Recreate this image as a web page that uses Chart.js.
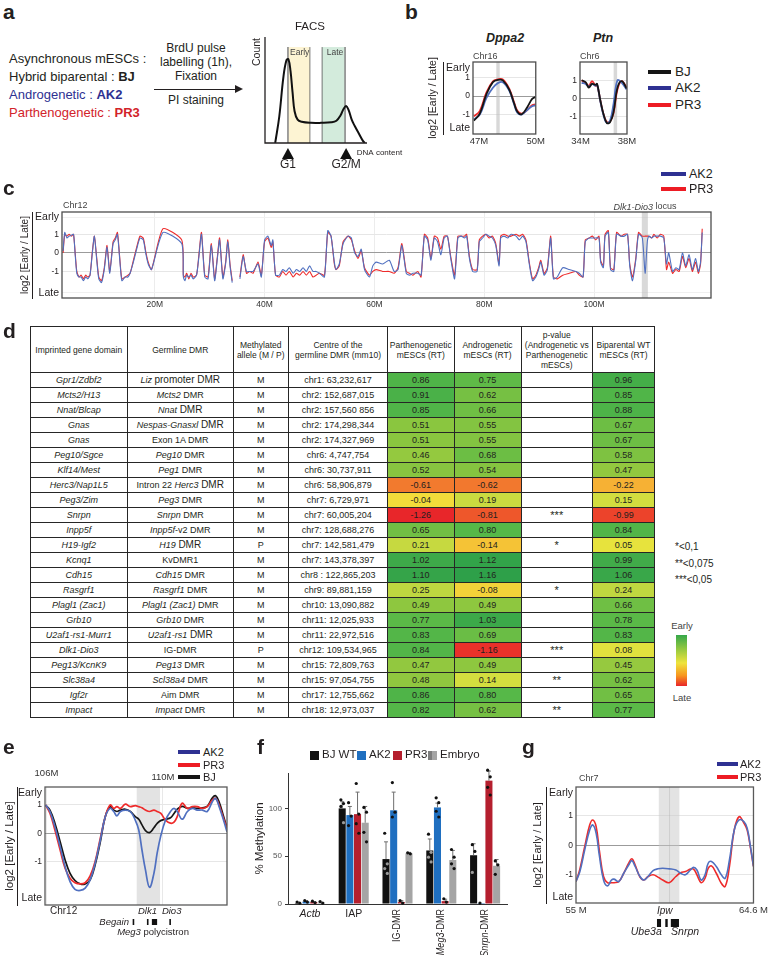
<!DOCTYPE html>
<html>
<head>
<meta charset="utf-8">
<title>Replication timing of imprinted domains</title>
<script src="https://cdn.jsdelivr.net/npm/chart.js@4.4.1/dist/chart.umd.min.js"></script>
<style>
body { margin: 0; background: #fff; }
#page { position: relative; width: 770px; height: 955px; overflow: hidden; background: #fff;
  font-family: "Liberation Sans", Arial, sans-serif; color: #231f20; }
#page > div, #page > canvas { position: absolute; }
.tag { font-weight: bold; font-size: 21px; line-height: 21px; }
.t { white-space: nowrap; line-height: 1; }
#tbl { position: absolute; left: 29.5px; top: 326px; border-collapse: collapse; table-layout: fixed; width: 624.5px;
  font-family: "Liberation Sans Narrow", "Liberation Sans", Arial, sans-serif; font-size: 9px; color: #231f20; }
#tbl td, #tbl th { border: 1px solid #262626; padding: 0; text-align: center; font-weight: normal; white-space: nowrap; overflow: hidden; }
#tbl tr.h { height: 46px; }
#tbl th { line-height: 10px; font-size: 8.5px; }
#tbl tr.r { height: 15px; }
#tbl td { line-height: 13px; }
.w { font-family: "Liberation Sans", Arial, sans-serif; font-size: 10px; }
.st { font-size: 11px; }
</style>
</head>
<body>
<div id="page">
  <canvas id="facs" width="175" height="150" style="left:240px;top:25px"></canvas>
  <canvas id="dppa2" width="127" height="105" style="left:420px;top:45px"></canvas>
  <canvas id="ptn" width="84" height="105" style="left:555px;top:45px"></canvas>
  <canvas id="chr12" width="720" height="115" style="left:0px;top:195px"></canvas>
  <canvas id="dlk" width="235" height="182" style="left:0px;top:758px"></canvas>
  <canvas id="meth" width="265" height="190" style="left:250px;top:765px"></canvas>
  <canvas id="chr7" width="265" height="170" style="left:505px;top:770px"></canvas>
</div>
<script>
// ---- a: FACS profile (DNA content a.u. / count) ----
var facsDNA = [10, 14, 18, 21, 23, 25, 27, 29, 32, 36, 45, 55, 65, 70, 74, 77, 79.5, 82, 85, 88, 92, 96, 98];
var facsCount = [0, 25, 62, 78, 79, 68, 48, 30, 22, 20, 19, 19, 19.5, 21, 26, 32, 35, 31, 22, 16, 9, 2, 0];

// ---- b: Dppa2 (chr16) and Ptn (chr6) ----
var dppa2Pos = [46.74, 47.05, 47.4, 47.74, 48.0, 48.26, 48.6, 48.86, 49.03, 49.26, 49.55, 49.81, 49.98];
var dppa2BJ = [-1.33, -0.95, 0.1, 0.75, 0.88, 0.85, 0.35, -0.4, -0.85, -0.98, -0.6, -0.15, -0.05];
var dppa2AK2 = [-1.26, -1.0, -0.1, 0.45, 0.7, 0.75, 0.3, -0.45, -0.9, -1.0, -0.75, -0.55, -0.5];
var dppa2PR3 = [-1.1, -0.8, 0.2, 0.8, 0.9, 0.9, 0.4, -0.35, -0.8, -0.95, -0.75, -0.5, -0.45];
var ptnPos = [34.09, 34.43, 34.71, 34.99, 35.28, 35.42, 35.7, 35.99, 36.27, 36.55, 36.84, 37.18, 37.55, 37.97];
var ptnBJ = [1.0, 0.9, 0.6, 0.8, 0.75, 0.8, -0.1, -0.9, -1.35, -1.3, -0.75, 0.6, 0.95, 0.55];
var ptnAK2 = [0.85, 0.8, 0.65, 0.8, 0.7, 0.78, -0.15, -0.95, -1.35, -1.2, -0.3, 1.0, 0.85, 0.5];
var ptnPR3 = [1.0, 0.85, 0.7, 0.95, 0.7, 0.75, -0.1, -0.9, -1.3, -1.25, -0.8, 0.5, 0.95, 0.6];

// ---- c: whole chr12 (Mb) ----
var cPos = [3.3,3.6,4.0,4.4,4.8,5.2,5.5,5.8,6.2,6.6,
  7.0,7.4,7.8,8.2,8.6,9.0,9.4,9.8,10.3,10.8,
  11.3,11.8,12.4,12.8,13.2,13.6,14.0,14.6,15.1,15.5,
  16.1,16.7,17.3,17.9,18.4,18.8,19.4,21.5,24.9,25.2,
  25.5,25.8,26.2,26.6,27.0,27.6,28.0,28.5,29.1,29.7,
  30.3,30.9,31.4,31.8,32.4,32.9,33.3,33.7,34.1,34.8,
  35.5,36.1,36.7,37.3,37.9,38.8,39.4,40.0,40.6,41.2,
  41.5,42.0,42.7,43.3,43.9,44.5,45.2,45.8,46.4,47.0,
  47.6,48.2,48.8,49.4,50.0,50.9,51.5,52.1,52.7,53.0,
  53.6,54.3,55.2,55.8,56.4,57.0,57.6,58.2,59.1,59.7,
  60.3,61.5,62.7,63.6,64.3,65.0,65.8,66.4,67.0,67.9,
  68.5,69.1,69.7,70.3,70.9,71.5,72.1,72.7,73.3,73.9,
  74.6,75.2,75.8,76.4,76.8,77.3,77.9,78.7,79.1,79.7,
  80.3,80.9,81.5,82.1,82.7,83.0,83.6,84.3,84.9,85.8,
  86.4,87.0,87.6,88.2,88.8,89.4,89.9,90.3,90.9,91.5,
  92.1,92.6,93.3,94.3,95.5,96.7,97.3,98.0,98.4,99.1,
  99.7,100.3,100.9,101.2,101.7,102.0,102.6,103.0,103.6,104.1,
  104.9,105.5,106.1,106.5,107.0,107.6,108.1,108.8,109.3,109.7,
  110.0,110.5,110.9,111.5,112.1,112.7,113.2,113.6,114.3,114.9,
  115.5,116.1,116.7,117.3,117.9,118.5,119.0,119.4,119.7];
var cPR3 = [0.0,1.0,0.9,1.0,0.9,1.0,0.0,-1.0,-1.3,-1.2,
  -1.4,-1.2,-1.3,-1.2,0.0,0.9,-0.2,-1.3,-1.5,-0.8,
  0.4,-1.0,0.6,0.8,1.1,-0.2,-1.4,-1.3,-1.2,-1.1,
  -0.4,0.3,0.9,0.8,0.0,-0.5,-0.9,1.3,0.7,-1.2,
  -1.3,-1.1,-1.4,-1.1,-1.3,-1.2,-0.2,1.1,-1.2,-1.3,
  0.5,-1.4,-0.2,0.8,-1.3,-0.5,0.7,-0.6,-1.5,null,
  -1.3,-0.1,-1.1,-1.0,-1.1,-0.5,-1.2,0.6,0.8,0.3,
  0.6,-1.2,-1.3,-1.0,-1.2,-1.0,-1.3,-1.1,-1.2,-1.0,
  -1.2,-1.0,-1.3,-1.2,-1.1,-1.2,1.1,0.9,-0.6,-0.9,
  -0.7,0.6,0.9,0.7,0.1,-0.3,0.1,-0.8,-1.2,-1.0,
  -0.9,-1.0,-1.0,-1.1,-0.8,0.5,-1.0,-1.1,-1.2,-1.0,
  -1.3,1.0,0.8,-0.3,0.9,0.8,0.2,0.9,0.9,-0.2,
  -1.2,0.9,0.9,0.9,1.0,-0.2,-0.9,-0.9,0.7,0.9,
  1.0,0.8,0.9,0.5,-0.6,0.9,1.0,0.9,0.9,1.0,
  0.9,1.0,0.7,-0.5,-1.4,-1.2,-0.8,-0.4,-1.1,-0.8,
  0.9,-1.3,-1.4,-1.2,-1.1,-1.0,-1.2,-1.3,0.7,0.8,
  0.9,0.7,0.9,-0.4,-0.7,1.0,1.2,-0.8,-0.9,1.1,
  0.9,1.0,1.0,-0.6,-1.3,-0.3,1.1,0.9,0.9,0.9,
  0.9,0.8,1.0,0.8,1.0,0.9,-0.9,-0.5,-1.1,-0.9,
  -1.0,-0.2,-0.8,-0.3,-1.0,-0.5,-1.1,-0.6,1.3];
var cAK2 = [0.1,1.1,0.8,0.9,0.95,1.0,-0.1,-1.1,-1.3,-1.3,
  -1.5,-1.3,-1.4,-1.2,-0.1,0.9,-0.3,-1.4,-1.6,-0.9,
  0.3,-1.1,0.5,0.7,1.0,-0.3,-1.5,-1.3,-1.3,-1.1,
  -0.5,0.2,0.8,0.7,-0.1,-0.6,-0.9,1.1,0.5,-1.3,
  -1.5,-1.2,-1.3,-1.2,-1.4,-1.2,-0.3,1.0,-1.3,-1.4,
  0.4,-1.5,-0.3,0.7,-1.4,-0.6,0.6,-0.7,-1.6,null,
  -1.4,-0.2,-1.0,-1.0,-1.0,-0.6,-1.3,0.7,0.9,0.4,
  0.7,-1.2,-1.2,-0.9,-1.0,-0.8,-1.1,-0.9,-1.0,-0.8,
  -1.0,-0.7,-1.0,-1.0,-1.1,-1.3,1.2,0.9,-0.5,-0.9,
  -0.6,0.5,0.9,0.8,0.0,-0.2,0.2,-0.9,-1.3,-0.7,
  -0.5,-0.6,-0.4,-1.0,-0.9,0.4,-1.1,-1.2,-1.1,-1.1,
  -1.2,0.9,0.7,-0.4,0.8,0.6,-0.1,0.8,0.9,-0.3,
  -1.4,0.8,0.9,0.8,0.9,-0.3,-1.0,-1.0,0.6,0.8,
  1.0,0.9,0.8,0.4,-0.7,0.8,0.9,0.8,1.0,0.9,
  0.7,0.9,0.6,-0.6,-1.5,-1.3,-0.9,-0.5,-1.2,-0.9,
  0.8,-1.4,-1.3,-0.8,-0.9,-1.0,-1.1,-1.3,0.6,0.8,
  0.8,0.8,0.8,-0.5,-0.8,0.9,1.1,-0.9,-1.0,1.0,
  0.9,0.9,1.0,-0.7,-1.5,-0.4,1.0,0.8,-1.1,0.6,
  0.9,0.8,0.9,0.9,0.9,0.8,-0.6,0.0,-1.0,-0.8,
  -0.9,0.0,-0.7,-0.1,-0.9,-0.3,-1.0,-0.5,1.1];

// ---- d: imprinted domains table ----
var tHead = ['Imprinted gene domain', 'Germline DMR', 'Methylated<br>allele (M / P)', 'Centre of the<br>germline DMR (mm10)',
  'Parthenogenetic<br>mESCs (RT)', 'Androgenetic<br>mESCs (RT)', 'p-value<br>(Androgenetic vs<br>Parthenogenetic<br>mESCs)', 'Biparental WT<br>mESCs (RT)'];
var tDomain = ['Gpr1/Zdbf2', 'Mcts2/H13', 'Nnat/Blcap', 'Gnas', 'Gnas', 'Peg10/Sgce', 'Klf14/Mest', 'Herc3/Nap1L5', 'Peg3/Zim',
  'Snrpn', 'Inpp5f', 'H19-Igf2', 'Kcnq1', 'Cdh15', 'Rasgrf1', 'Plagl1 (Zac1)', 'Grb10', 'U2af1-rs1-Murr1', 'Dlk1-Dio3',
  'Peg13/KcnK9', 'Slc38a4', 'Igf2r', 'Impact'];
var tDMR = ['<i>Liz</i> <span class="w">promoter DMR</span>', '<i>Mcts2</i> DMR', '<i>Nnat</i> <span class="w">DMR</span>',
  '<i>Nespas-Gnasxl</i> <span class="w">DMR</span>', 'Exon 1A DMR', '<i>Peg10</i> DMR', '<i>Peg1</i> DMR',
  'Intron 22 <i>Herc3</i> <span class="w">DMR</span>', '<i>Peg3</i> DMR', '<i>Snrpn</i> DMR', '<i>Inpp5f</i>-v2 DMR',
  '<i>H19</i> <span class="w">DMR</span>', 'KvDMR1', '<i>Cdh15</i> DMR', '<i>Rasgrf1</i> DMR', '<i>Plagl1 (Zac1)</i> DMR',
  '<i>Grb10</i> DMR', '<i>U2af1-rs1</i> <span class="w">DMR</span>', 'IG-DMR', '<i>Peg13</i> DMR', '<i>Scl38a4</i> DMR',
  'Aim DMR', '<i>Impact</i> DMR'];
var tAllele = ['M','M','M','M','M','M','M','M','M','M','M','P','M','M','M','M','M','M','P','M','M','M','M'];
var tCentre = ['chr1: 63,232,617', 'chr2: 152,687,015', 'chr2: 157,560 856', 'chr2: 174,298,344', 'chr2: 174,327,969',
  'chr6: 4,747,754', 'chr6: 30,737,911', 'chr6: 58,906,879', 'chr7: 6,729,971', 'chr7: 60,005,204', 'chr7: 128,688,276',
  'chr7: 142,581,479', 'chr7: 143,378,397', 'chr8 : 122,865,203', 'chr9: 89,881,159', 'chr10: 13,090,882',
  'chr11: 12,025,933', 'chr11: 22,972,516', 'chr12: 109,534,965', 'chr15: 72,809,763', 'chr15: 97,054,755',
  'chr17: 12,755,662', 'chr18: 12,973,037'];
var tParth = [0.86, 0.91, 0.85, 0.51, 0.51, 0.46, 0.52, -0.61, -0.04, -1.26, 0.65, 0.21, 1.02, 1.10, 0.25, 0.49, 0.77, 0.83, 0.84, 0.47, 0.48, 0.86, 0.82];
var tAndro = [0.75, 0.62, 0.66, 0.55, 0.55, 0.68, 0.54, -0.62, 0.19, -0.81, 0.80, -0.14, 1.12, 1.16, -0.08, 0.49, 1.03, 0.69, -1.16, 0.49, 0.14, 0.80, 0.62];
var tPval = ['', '', '', '', '', '', '', '', '', '***', '', '*', '', '', '*', '', '', '', '***', '', '**', '', '**'];
var tBip = [0.96, 0.85, 0.88, 0.67, 0.67, 0.58, 0.47, -0.22, 0.15, -0.99, 0.84, 0.05, 0.99, 1.06, 0.24, 0.66, 0.78, 0.83, 0.08, 0.45, 0.62, 0.65, 0.77];
var tNotes = ['*&lt;0,1', '**&lt;0,075', '***&lt;0,05'];

// ---- e: Dlk1-Dio3 locus (Mb) ----
var ePos = [105.97,106.12,106.29,106.47,106.64,106.81,106.98,107.16,107.33,107.5,107.67,107.85,108.02,108.19,108.31,
  108.42,108.54,108.71,108.88,109.05,109.17,109.28,109.4,109.54,109.69,109.8,109.92,110.09,110.26,110.38,110.49,
  110.66,110.84,111.01,111.18,111.35,111.52,111.7,111.81,111.93,112.08,112.2];
var eAK2 = [1.0,0.77,0.24,-0.46,-1.16,-1.69,-1.96,-2.0,-1.92,-1.63,-1.05,-0.23,0.59,0.88,0.77,0.62,0.77,0.82,0.77,0.47,
  0.12,-0.58,-1.28,-1.89,-1.4,-0.7,-0.11,0.47,0.77,0.88,0.77,0.5,0.77,0.88,0.82,0.82,0.77,1.12,1.23,0.94,0.47,0.06];
var ePR3 = [1.0,0.71,0.12,-0.58,-1.22,-1.57,-1.73,-1.77,-1.73,-1.49,-0.99,-0.17,0.59,1.0,0.88,0.94,0.88,1.03,0.94,0.98,
  0.94,0.9,0.82,0.77,0.82,0.77,0.71,0.47,0.36,0.4,0.59,1.06,0.88,0.94,0.94,0.88,0.94,1.18,1.23,1.0,0.53,0.18];
var eBJ = [1.0,0.82,0.36,-0.29,-0.93,-1.4,-1.65,-1.77,-1.77,-1.63,-1.11,-0.29,0.59,0.94,0.82,0.77,0.82,0.85,0.77,0.59,
  0.5,0.3,0.1,0.03,0.2,0.35,0.45,0.5,0.55,0.7,0.85,0.95,0.88,0.9,0.88,0.9,0.95,1.25,1.32,1.1,0.6,0.2];
var eGenes = [[108.96, 108.99], [109.45, 109.48], [109.62, 109.8], [110.22, 110.25]];

// ---- f: % methylation ----
var fCats = ['Actb', 'IAP', 'IG-DMR', 'Meg3-DMR', 'Snrpn-DMR'];
var fCatItalic = [true, false, false, true, true];
var fSeries = ['BJ WT', 'AK2', 'PR3', 'Embryo'];
var fBJ = [1, 100, 47, 56, 51];
var fAK2 = [2.5, 93, 98, 101, 1];
var fPR3 = [2, 94, 2, 3, 129];
var fEmb = [1.5, 85, 53, 46, 40];
var fBJErr = [0.5, 7, 18, 12, 12];
var fAK2Err = [1, 9, 19, 4.5, 0];
var fPR3Err = [0.8, 23, 1.5, 2, 10];
var fEmbErr = [0.5, 17, 1, 10, 6.5];
var fBJDots = [[2, 1], [109, 105, 102, 85], [74, 42, 37, 32], [73, 54, 49, 44], [62, 55, 33]];
var fAK2Dots = [[3.5, 2], [106, 92, 82], [127, 96, 91], [111, 106, 97, 91], [1]];
var fPR3Dots = [[3, 1.5], [126, 94, 84, 74], [3.5, 1], [5.5, 2], [140, 133, 122, 114]];
var fEmbDots = [[2.5, 1], [101, 96, 75, 65], [53.5, 52.5], [57, 49, 42, 37], [45, 41, 31]];
var fTicks = [0, 50, 100];

// ---- g: Snrpn locus chr7 (Mb) ----
var gPos = [55.0,55.21,55.47,55.74,55.91,56.09,56.27,56.49,56.7,56.92,57.06,57.32,57.58,57.85,58.02,58.2,58.46,58.67,
  58.9,59.17,59.43,59.69,60.04,60.4,60.66,60.92,61.19,61.36,61.54,61.77,61.98,62.15,62.33,62.59,62.86,63.07,63.3,
  63.56,63.82,64.09,64.26,64.44,64.6];
var gAK2 = [-1.23,-0.89,-0.16,0.52,0.69,0.41,-0.38,-1.18,-1.38,-1.18,-1.15,-1.23,-0.95,-0.67,-0.52,-0.72,-1.06,-1.18,
  -1.06,-0.86,-0.8,-0.78,-0.8,-0.84,-0.95,-1.0,-0.84,-0.75,-0.84,-1.18,-1.0,-0.61,-0.55,-0.72,-1.0,-1.12,-0.5,0.52,
  0.86,0.8,0.58,-0.05,-0.72];
var gPR3 = [-1.23,-0.81,-0.05,0.69,0.86,0.63,-0.21,-1.06,-1.27,-1.27,-1.27,-1.23,-0.95,-0.61,-0.46,-0.67,-1.08,-1.18,
  -1.06,-1.0,-1.08,-1.18,-1.27,-1.06,-0.93,-0.89,-0.81,-0.81,-1.0,-1.27,-1.12,-0.78,-0.7,-0.95,-1.29,-1.4,-0.72,0.52,
  0.97,0.75,0.52,-0.1,-0.72];
var gGenes = [[59.38, 59.6], [59.83, 59.96], [60.13, 60.57]];

// colours
var blueLine = '#5070c0', redLine = '#ee2b2b', blackLine = '#151515';
var blueKey = '#2e3192', redKey = '#ed1c24';

Chart.defaults.font.family = '"Liberation Sans", Arial, sans-serif';
Chart.defaults.color = '#231f20';

var page = document.getElementById('page');

function put(html, x, y, size, opt) {
  opt = opt || {};
  var d = document.createElement('div');
  d.className = 't';
  d.innerHTML = html;
  d.style.left = x + 'px';
  d.style.top = y + 'px';
  d.style.fontSize = size + 'px';
  var tx = opt.align === 'center' ? '-50%' : opt.align === 'right' ? '-100%' : '0';
  d.style.transform = 'translate(' + tx + ',-50%)';
  if (opt.color) d.style.color = opt.color;
  page.appendChild(d);
  return d;
}
function box(x, y, w, h, bg) {
  var d = document.createElement('div');
  d.style.left = x + 'px'; d.style.top = y + 'px';
  d.style.width = w + 'px'; d.style.height = h + 'px';
  d.style.background = bg;
  page.appendChild(d);
  return d;
}
function tag(letter, x, y) {
  var d = document.createElement('div');
  d.className = 'tag';
  d.textContent = letter;
  d.style.left = x + 'px'; d.style.top = y + 'px';
  page.appendChild(d);
}

function fontStr(p, size) {
  return (p.i ? 'italic ' : '') + (p.b ? 'bold ' : '') + size + 'px "Liberation Sans", Arial, sans-serif';
}
function drawParts(c, parts, x, y, size, align, color) {
  if (typeof parts === 'string') parts = [{ t: parts }];
  var widths = parts.map(function (p) { c.font = fontStr(p, size); return c.measureText(p.t).width; });
  var total = widths.reduce(function (s, w) { return s + w; }, 0);
  var x0 = align === 'center' ? x - total / 2 : align === 'right' ? x - total : x;
  c.fillStyle = color || '#231f20';
  c.textBaseline = 'middle';
  c.textAlign = 'left';
  parts.forEach(function (p, k) { c.font = fontStr(p, size); c.fillText(p.t, x0, y); x0 += widths[k]; });
}

// decorations drawn through the chart scales
var deco = {
  id: 'deco',
  beforeDatasetsDraw: function (chart, args, o) {
    var c = chart.ctx, a = chart.chartArea, xs = chart.scales.x, ys = chart.scales.y;
    c.save();
    (o.bands || []).forEach(function (b) {
      var x1 = xs.getPixelForValue(b.from), x2 = xs.getPixelForValue(b.to);
      var top = b.top != null ? ys.getPixelForValue(b.top) : a.top;
      c.fillStyle = b.color;
      c.fillRect(x1, top, x2 - x1, a.bottom - top);
    });
    (o.vlines || []).forEach(function (l) {
      var x = xs.getPixelForValue(l.v);
      var top = l.top != null ? ys.getPixelForValue(l.top) : a.top;
      c.strokeStyle = l.color; c.lineWidth = l.w;
      c.beginPath(); c.moveTo(x, top); c.lineTo(x, a.bottom); c.stroke();
    });
    c.restore();
  },
  afterDraw: function (chart, args, o) {
    var c = chart.ctx, a = chart.chartArea, xs = chart.scales.x;
    c.save();
    if (o.frame) {
      c.strokeStyle = o.frame; c.lineWidth = 1.3;
      c.strokeRect(a.left, a.top, a.right - a.left, a.bottom - a.top);
    }
    if (o.axesL) {
      c.strokeStyle = o.axesL; c.lineWidth = 1.3;
      c.beginPath(); c.moveTo(a.left, a.top); c.lineTo(a.left, a.bottom); c.lineTo(a.right, a.bottom); c.stroke();
    }
    if (o.yTitle) {
      var t = o.yTitle, cy = t.dy != null ? a.top + t.dy : (a.top + a.bottom) / 2;
      c.save();
      c.translate(a.left + t.dx, cy);
      c.rotate(-Math.PI / 2);
      drawParts(c, t.text, 0, 0, t.size, 'center');
      c.restore();
      if (t.bar != null) {
        var bx = Math.round(a.left + t.bar) + 0.5;
        c.strokeStyle = '#231f20'; c.lineWidth = 1;
        c.beginPath(); c.moveTo(bx, a.top); c.lineTo(bx, a.bottom + 1); c.stroke();
      }
    }
    (o.marks || []).forEach(function (v) {
      var x = xs.getPixelForValue(v);
      c.fillStyle = '#111';
      c.beginPath(); c.moveTo(x, a.bottom + 5); c.lineTo(x + 6, a.bottom + 16); c.lineTo(x - 6, a.bottom + 16); c.closePath(); c.fill();
    });
    (o.genes || []).forEach(function (g) {
      var x1 = xs.getPixelForValue(g[0]), x2 = xs.getPixelForValue(g[1]);
      c.fillStyle = '#111';
      c.fillRect(x1, a.bottom + o.geneDy, Math.max(1.6, x2 - x1), o.geneH);
    });
    (o.texts || []).forEach(function (t) {
      var x = (t.v != null ? xs.getPixelForValue(t.v) : a.left) + (t.dx || 0);
      var y = (t.from === 'bottom' ? a.bottom : a.top) + t.dy;
      drawParts(c, t.parts, x, y, t.size, t.align || 'left', t.color);
    });
    c.restore();
  }
};
Chart.register(deco);

function trackChart(id, o) {
  var datasets = o.series.map(function (s) {
    return {
      data: o.pos.map(function (p, i) { return { x: p, y: s.values[i] }; }),
      borderColor: s.color,
      borderWidth: o.lineWidth,
      pointRadius: 0,
      tension: o.tension,
      fill: false
    };
  });
  return new Chart(document.getElementById(id), {
    type: 'line',
    data: { datasets: datasets },
    options: {
      responsive: false, animation: false, devicePixelRatio: 1,
      layout: { padding: o.padding },
      plugins: { legend: { display: false }, tooltip: { enabled: false }, deco: o.deco },
      scales: {
        x: {
          type: 'linear', min: o.xMin, max: o.xMax,
          afterBuildTicks: function (ax) { ax.ticks = o.xTicks.map(function (v) { return { value: v }; }); },
          afterFit: function (ax) { ax.height = o.xHeight; },
          ticks: {
            display: o.xShow !== false,
            autoSkip: false, maxRotation: 0, padding: 2, color: '#333', font: { size: o.xFont || 9 },
            callback: function (v, i) { return o.xLabels[i]; }
          },
          grid: { drawTicks: false, color: o.xGrid || 'rgba(0,0,0,0)' },
          border: { display: false }
        },
        y: {
          min: o.yMin, max: o.yMax,
          afterBuildTicks: function (ax) { ax.ticks = o.yTicks.map(function (v) { return { value: v }; }); },
          afterFit: function (ax) { ax.width = o.yWidth; },
          ticks: {
            autoSkip: false, padding: 3, color: '#231f20',
            font: function (ctx) { var l = o.yLabels[ctx.index] || ''; return { size: /^[A-Z]/.test(l) ? 10.5 : 8.5 }; },
            callback: function (v, i) { return o.yLabels[i]; }
          },
          grid: {
            drawTicks: false,
            color: function (ctx) {
              var v = ctx.tick ? ctx.tick.value : null;
              if (v === 0) return '#9b9b9b';
              if (v === 1 || v === -1) return '#e6e6e6';
              return o.edgeGrid || 'rgba(0,0,0,0)';
            }
          },
          border: { display: false }
        }
      }
    }
  });
}

// ================= panel a =================
tag('a', 3, 1);
put('Asynchronous mESCs :', 9, 58, 13);
put('Hybrid biparental : <b>BJ</b>', 9, 76, 13);
put('Androgenetic : <b>AK2</b>', 9, 94, 13, { color: blueKey });
put('Parthenogenetic : <b>PR3</b>', 9, 112, 13, { color: '#d2232a' });
put('BrdU pulse', 196, 48, 12, { align: 'center' });
put('labelling (1h),', 196, 62, 12, { align: 'center' });
put('Fixation', 196, 76, 12, { align: 'center' });
put('PI staining', 196, 100, 12, { align: 'center' });
box(154, 88.5, 83, 1.2, '#231f20');
var head = box(235, 85, 0, 0, 'transparent');
head.style.borderLeft = '8px solid #231f20';
head.style.borderTop = '4px solid transparent';
head.style.borderBottom = '4px solid transparent';
put('FACS', 310, 27, 11.5, { align: 'center' });

new Chart(document.getElementById('facs'), {
  type: 'line',
  data: { datasets: [{ data: facsDNA.map(function (v, i) { return { x: v, y: facsCount[i] }; }),
    borderColor: '#111', borderWidth: 2, pointRadius: 0, tension: 0.4, fill: false }] },
  options: {
    responsive: false, animation: false, devicePixelRatio: 1,
    layout: { padding: { left: 25, right: 48, top: 12, bottom: 32 } },
    plugins: {
      legend: { display: false }, tooltip: { enabled: false },
      deco: {
        axesL: '#231f20',
        bands: [{ from: 22.5, to: 44, color: '#fdf4d3', top: 90.5 }, { from: 56, to: 78.5, color: '#d3ebdc', top: 90.5 }],
        vlines: [{ v: 22.5, color: '#8a8a8a', w: 1.6, top: 90.5 }, { v: 44, color: '#555', w: 0.8, top: 90.5 },
                 { v: 56, color: '#555', w: 0.8, top: 90.5 }, { v: 78.5, color: '#8a8a8a', w: 1.6, top: 90.5 }],
        marks: [22.5, 79.5],
        yTitle: { text: 'Count', dx: -8, dy: 15, size: 10.5 },
        texts: [
          { parts: 'Early', v: 24.5, from: 'top', dy: 16, size: 8.5, color: '#444' },
          { parts: 'Late', v: 60.5, from: 'top', dy: 16, size: 8.5, color: '#444' },
          { parts: 'G1', v: 22.5, from: 'bottom', dy: 22, size: 12, align: 'center' },
          { parts: 'G2/M', v: 79.5, from: 'bottom', dy: 22, size: 12, align: 'center' },
          { parts: 'DNA content', v: 90, from: 'bottom', dy: 10, size: 8 }
        ]
      }
    },
    scales: { x: { type: 'linear', display: false, min: 0, max: 100 }, y: { display: false, min: 0, max: 100 } }
  }
});

// ================= panel b =================
tag('b', 405, 1);
put('<b><i>Dppa2</i></b>', 505, 38, 12.5, { align: 'center' });
put('<b><i>Ptn</i></b>', 603, 38, 12.5, { align: 'center' });
[['BJ', blackLine, 72], ['AK2', blueKey, 88], ['PR3', redKey, 105]].forEach(function (k) {
  box(648, k[2] - 1.75, 23, 3.5, k[1]);
  put(k[0], 675, k[2], 13.5);
});

trackChart('dppa2', {
  pos: dppa2Pos,
  series: [{ values: dppa2BJ, color: blackLine }, { values: dppa2AK2, color: blueLine }, { values: dppa2PR3, color: redLine }],
  lineWidth: 1.8, tension: 0.4,
  padding: { left: 0, right: 10, top: 17, bottom: 0 },
  xMin: 46.69, xMax: 50.0, xTicks: [47, 50], xLabels: ['47M', '50M'], xHeight: 16, xFont: 9.5,
  yMin: -2.05, yMax: 1.84, yTicks: [-1.73, -1, 0, 1, 1.51], yLabels: ['Late', '-1', '0', '1', 'Early'], yWidth: 53,
  deco: {
    frame: '#4d4d4d',
    bands: [{ from: 47.92, to: 48.1, color: 'rgba(190,190,190,0.6)' }],
    yTitle: { text: 'log2 [Early / Late]', dx: -40, size: 10.5, bar: -30 },
    texts: [{ parts: 'Chr16', dx: 0, from: 'top', dy: -5, size: 9, color: '#444' }]
  }
});
trackChart('ptn', {
  pos: ptnPos,
  series: [{ values: ptnBJ, color: blackLine }, { values: ptnAK2, color: blueLine }, { values: ptnPR3, color: redLine }],
  lineWidth: 1.8, tension: 0.4,
  padding: { left: 0, right: 12, top: 17, bottom: 0 },
  xMin: 33.95, xMax: 38.0, xTicks: [34, 38], xLabels: ['34M', '38M'], xHeight: 16, xFont: 9.5,
  yMin: -1.95, yMax: 2.0, yTicks: [-1, 0, 1], yLabels: ['-1', '0', '1'], yWidth: 25,
  deco: {
    frame: '#4d4d4d',
    bands: [{ from: 36.85, to: 37.15, color: 'rgba(190,190,190,0.6)' }],
    texts: [{ parts: 'Chr6', dx: 0, from: 'top', dy: -5, size: 9, color: '#444' }]
  }
});

// ================= panel c =================
tag('c', 3, 177);
[['AK2', blueKey, 174], ['PR3', redKey, 189]].forEach(function (k) {
  box(661, k[2] - 1.75, 25, 3.5, k[1]);
  put(k[0], 689, k[2], 12.5);
});
trackChart('chr12', {
  pos: cPos,
  series: [{ values: cAK2, color: blueLine }, { values: cPR3, color: redLine }],
  lineWidth: 1.1, tension: 0.2,
  padding: { left: 0, right: 9, top: 17, bottom: 0 },
  xMin: 3.1, xMax: 121.3, xTicks: [20, 40, 60, 80, 100], xLabels: ['20M', '40M', '60M', '80M', '100M'],
  xHeight: 12, xFont: 8.5, xGrid: '#ececec',
  yMin: -2.43, yMax: 2.2, yTicks: [-2.16, -1, 0, 1, 1.9], yLabels: ['Late', '-1', '0', '1', 'Early'], yWidth: 62,
  edgeGrid: '#f0f0f0',
  deco: {
    frame: '#4d4d4d',
    bands: [{ from: 108.7, to: 109.8, color: 'rgba(185,185,185,0.55)' }],
    yTitle: { text: 'log2 [Early / Late]', dx: -37, size: 10, bar: -30 },
    texts: [
      { parts: 'Chr12', dx: 1, from: 'top', dy: -6, size: 9, color: '#444' },
      { parts: [{ t: 'Dlk1-Dio3', i: true }, { t: ' locus' }], v: 109.3, from: 'top', dy: -5, size: 9, align: 'center', color: '#444' }
    ]
  }
});

// ================= panel d =================
tag('d', 3, 320);
var tColW = [97.5, 105.5, 55.5, 99, 66.5, 67, 71.5, 62];
var heatStops = [-1.26, -0.8, -0.6, -0.2, 0, 0.2, 0.5, 0.8, 1.16];
var heatColors = [[232, 38, 42], [238, 88, 43], [242, 124, 46], [246, 180, 52], [241, 230, 60], [200, 218, 64], [140, 198, 63], [86, 184, 72], [46, 160, 73]];
function heat(v) {
  for (var k = 1; k < heatStops.length; k++) {
    if (v <= heatStops[k] || k === heatStops.length - 1) {
      var t = Math.max(0, Math.min(1, (v - heatStops[k - 1]) / (heatStops[k] - heatStops[k - 1])));
      var a = heatColors[k - 1], b = heatColors[k];
      return 'rgb(' + [0, 1, 2].map(function (j) { return Math.round(a[j] + (b[j] - a[j]) * t); }).join(',') + ')';
    }
  }
}
var html = '<table id="tbl"><colgroup>' + tColW.map(function (w) { return '<col style="width:' + w + 'px">'; }).join('') + '</colgroup>';
html += '<tr class="h">' + tHead.map(function (h) { return '<th>' + h + '</th>'; }).join('') + '</tr>';
tDomain.forEach(function (d, i) {
  html += '<tr class="r"><td><i>' + d + '</i></td><td>' + tDMR[i] + '</td><td>' + tAllele[i] + '</td><td>' + tCentre[i] + '</td>' +
    '<td style="background:' + heat(tParth[i]) + '">' + tParth[i].toFixed(2) + '</td>' +
    '<td style="background:' + heat(tAndro[i]) + '">' + tAndro[i].toFixed(2) + '</td>' +
    '<td class="st">' + tPval[i] + '</td>' +
    '<td style="background:' + heat(tBip[i]) + '">' + tBip[i].toFixed(2) + '</td></tr>';
});
html += '</table>';
page.insertAdjacentHTML('beforeend', html);
tNotes.forEach(function (n, i) { put(n, 675, 547 + i * 16.5, 10); });
put('Early', 682, 626, 9.5, { align: 'center', color: '#444' });
box(676, 635, 11, 51, 'linear-gradient(#36a84a, #9ccb3f 30%, #efe43c 55%, #f7941d 80%, #e8262a)');
put('Late', 682, 698, 9.5, { align: 'center', color: '#444' });

// ================= panel e =================
tag('e', 3, 736);
[['AK2', blueKey, 752], ['PR3', redKey, 765], ['BJ', blackLine, 777]].forEach(function (k) {
  box(178, k[2] - 1.75, 22, 3.5, k[1]);
  put(k[0], 203, k[2], 11);
});
trackChart('dlk', {
  pos: ePos,
  series: [{ values: eAK2, color: blueLine }, { values: ePR3, color: redLine }, { values: eBJ, color: blackLine }],
  lineWidth: 1.7, tension: 0.4,
  padding: { left: 0, right: 8, top: 29, bottom: 35 },
  xShow: false, xMin: 105.95, xMax: 112.2, xTicks: [106, 110], xLabels: ['106M', '110M'], xHeight: 0,
  xGrid: '#e8e8e8',
  yMin: -2.51, yMax: 1.63, yTicks: [-2.26, -1, 0, 1, 1.42], yLabels: ['Late', '-1', '0', '1', 'Early'], yWidth: 45,
  deco: {
    frame: '#5a5a5a',
    bands: [{ from: 109.1, to: 109.9, color: 'rgba(200,200,200,0.5)' }],
    yTitle: { text: 'log2 [Early / Late]', dx: -35, size: 11.5, bar: -28 },
    genes: eGenes, geneDy: 14, geneH: 6,
    texts: [
      { parts: '106M', v: 106, from: 'top', dy: -14, size: 9.5, align: 'center', color: '#333' },
      { parts: '110M', v: 110, from: 'top', dy: -10, size: 9.5, align: 'center', color: '#333' },
      { parts: 'Chr12', dx: 5, from: 'bottom', dy: 6, size: 10 },
      { parts: [{ t: 'Dlk1', i: true }], v: 109.47, from: 'bottom', dy: 6, size: 9.5, align: 'center' },
      { parts: [{ t: 'Dio3', i: true }], v: 110.3, from: 'bottom', dy: 6, size: 9.5, align: 'center' },
      { parts: [{ t: 'Begain', i: true }], v: 108.97, dx: -4, from: 'bottom', dy: 17.5, size: 9.5, align: 'right' },
      { parts: [{ t: 'Meg3', i: true }, { t: ' polycistron' }], v: 109.66, from: 'bottom', dy: 27, size: 9.5, align: 'center' }
    ]
  }
});

// ================= panel f =================
tag('f', 257, 736);
[['BJ WT', '#111', 310], ['AK2', '#1f6fc0', 357], ['PR3', '#b51f2e', 393], ['Embryo', '#a5a5a5', 428]].forEach(function (k) {
  box(k[2], 750.5, 9, 9, k[1]);
  put(k[0], k[2] + 12, 755, 11.5);
});
box(428, 750.5, 4, 9, '#7d7d7d');

var barExtras = {
  id: 'barExtras',
  afterDatasetsDraw: function (chart, args, o) {
    if (!o || !o.err) return;
    var c = chart.ctx, ys = chart.scales.y;
    c.save();
    chart.data.datasets.forEach(function (ds, d) {
      chart.getDatasetMeta(d).data.forEach(function (bar, i) {
        var v = ds.data[i], e = o.err[d][i];
        if (e > 0.8) {
          var yt = ys.getPixelForValue(v + e);
          c.strokeStyle = '#6e6e6e'; c.lineWidth = 1;
          c.beginPath(); c.moveTo(bar.x, bar.y); c.lineTo(bar.x, yt);
          c.moveTo(bar.x - 2, yt); c.lineTo(bar.x + 2, yt); c.stroke();
        }
        o.dots[d][i].forEach(function (p, k) {
          c.fillStyle = (d === 0 && p < v) ? '#9a9a9a' : '#111';
          c.beginPath(); c.arc(bar.x + (k % 2 ? 1.3 : -1.3), ys.getPixelForValue(p), 1.6, 0, Math.PI * 2); c.fill();
        });
      });
    });
    c.restore();
  },
  afterDraw: function (chart) {
    var c = chart.ctx, a = chart.chartArea, xs = chart.scales.x;
    c.save();
    fCats.forEach(function (name, i) {
      var x = xs.getPixelForValue(i), parts;
      if (fCatItalic[i]) {
        var cut = name.indexOf('-');
        parts = cut < 0 ? [{ t: name, i: true }] : [{ t: name.slice(0, cut), i: true }, { t: name.slice(cut) }];
      } else parts = [{ t: name }];
      if (i < 2) {
        drawParts(c, parts, x, a.bottom + 10, 10.5, 'center');
      } else {
        c.save(); c.translate(x, a.bottom + 5); c.rotate(-Math.PI / 2); c.scale(0.86, 1);
        drawParts(c, parts, 0, 0, 10.5, 'right');
        c.restore();
      }
    });
    c.restore();
  }
};

new Chart(document.getElementById('meth'), {
  type: 'bar',
  data: {
    labels: fCats,
    datasets: [
      { label: fSeries[0], data: fBJ, backgroundColor: '#111' },
      { label: fSeries[1], data: fAK2, backgroundColor: '#1f6fc0' },
      { label: fSeries[2], data: fPR3, backgroundColor: '#b51f2e' },
      { label: fSeries[3], data: fEmb, backgroundColor: '#a5a5a5' }
    ]
  },
  options: {
    responsive: false, animation: false, devicePixelRatio: 1,
    layout: { padding: { left: 0, right: 8, top: 8, bottom: 51 } },
    datasets: { bar: { categoryPercentage: 0.7, barPercentage: 0.92 } },
    plugins: {
      legend: { display: false }, tooltip: { enabled: false },
      deco: { yTitle: { text: '% Methylation', dx: -28, size: 11.5 } },
      barExtras: {
        err: [fBJErr, fAK2Err, fPR3Err, fEmbErr],
        dots: [fBJDots, fAK2Dots, fPR3Dots, fEmbDots]
      }
    },
    scales: {
      x: {
        ticks: { display: false }, grid: { display: false },
        border: { display: true, color: '#333' },
        afterFit: function (ax) { ax.height = 0; }
      },
      y: {
        min: 0, max: 137,
        afterBuildTicks: function (ax) { ax.ticks = fTicks.map(function (v) { return { value: v }; }); },
        afterFit: function (ax) { ax.width = 38; },
        ticks: { font: { size: 8 }, color: '#555', padding: 3 },
        grid: { drawOnChartArea: false, drawTicks: true, tickLength: 3, color: '#333' },
        border: { display: true, color: '#333' }
      }
    }
  },
  plugins: [barExtras]
});

// ================= panel g =================
tag('g', 522, 736);
[['AK2', blueKey, 764], ['PR3', redKey, 777]].forEach(function (k) {
  box(717, k[2] - 1.75, 21, 3.5, k[1]);
  put(k[0], 740, k[2], 11);
});
trackChart('chr7', {
  pos: gPos,
  series: [{ values: gAK2, color: blueLine }, { values: gPR3, color: redLine }],
  lineWidth: 1.6, tension: 0.4,
  padding: { left: 0, right: 12, top: 17, bottom: 25 },
  xMin: 55, xMax: 64.6, xTicks: [55, 64.6], xLabels: ['55 M', '64.6 M'], xHeight: 12, xFont: 9.5,
  yMin: -1.96, yMax: 1.98, yTicks: [-1.75, -1, 0, 1, 1.77], yLabels: ['Late', '-1', '0', '1', 'Early'], yWidth: 71,
  deco: {
    frame: '#5a5a5a',
    bands: [{ from: 59.48, to: 60.59, color: 'rgba(200,200,200,0.5)' }],
    vlines: [{ v: 60.06, color: 'rgba(170,170,170,0.35)', w: 1 }],
    yTitle: { text: 'log2 [Early / Late]', dx: -38, size: 11, bar: -30 },
    genes: gGenes, geneDy: 16, geneH: 8,
    texts: [
      { parts: 'Chr7', dx: 3, from: 'top', dy: -8, size: 9, color: '#444' },
      { parts: [{ t: 'Ipw', i: true }], v: 59.8, from: 'bottom', dy: 8, size: 10, align: 'center' },
      { parts: [{ t: 'Ube3a', i: true }], v: 58.8, from: 'bottom', dy: 29, size: 10.5, align: 'center' },
      { parts: [{ t: 'Snrpn', i: true }], v: 60.9, from: 'bottom', dy: 29, size: 10.5, align: 'center' }
    ]
  }
});
</script>
</body>
</html>
